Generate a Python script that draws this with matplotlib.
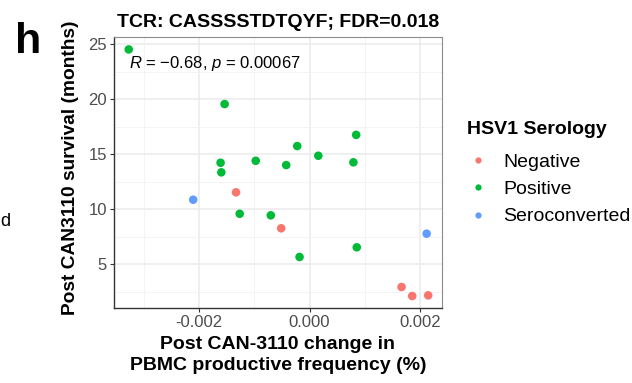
import matplotlib
matplotlib.use("Agg")
import matplotlib.pyplot as plt
from matplotlib.ticker import MultipleLocator
from matplotlib.lines import Line2D

plt.rcParams["font.family"] = ["Liberation Sans", "DejaVu Sans"]
plt.rcParams["mathtext.fontset"] = "custom"
plt.rcParams["mathtext.rm"] = "Liberation Sans"
plt.rcParams["mathtext.it"] = "Liberation Sans:italic"

# Datos
negativo_x = [-0.001333, -0.000515, 0.001667, 0.00186, 0.00215]
negativo_y = [11.52, 8.25, 2.91, 2.09, 2.15]

positivo_x = [-0.003278, -0.00154, -0.001613, -0.0016, -0.000976, -0.000424,
              -0.000224, 0.000158, 0.000844, 0.000794, -0.001267, -0.000703,
              -0.000182, 0.000855]
positivo_y = [24.52, 19.55, 14.21, 13.34, 14.39, 14.0,
              15.73, 14.85, 16.75, 14.25, 9.57, 9.43,
              5.64, 6.52]

seroconv_x = [-0.00211, 0.002122]
seroconv_y = [10.85, 7.76]

grupos = ["Negative", "Positive", "Seroconverted"]
colores = ["#F8766D", "#00BA38", "#619CFF"]

fig = plt.figure(figsize=(6.32, 3.83), dpi=100)
ax = fig.add_axes([114 / 632, 1 - 308 / 383, 328 / 632, 271 / 383])

for xs, ys, c in zip([negativo_x, positivo_x, seroconv_x],
                     [negativo_y, positivo_y, seroconv_y], colores):
    ax.scatter(xs, ys, s=38, color=c, edgecolors="none", zorder=3)

ax.set_xlim(-0.003545, 0.0024)
ax.set_ylim(1.0, 25.65)
ax.xaxis.set_major_locator(MultipleLocator(0.002))
ax.xaxis.set_minor_locator(MultipleLocator(0.001))
ax.yaxis.set_major_locator(MultipleLocator(5))
ax.yaxis.set_minor_locator(MultipleLocator(2.5))
ax.xaxis.set_major_formatter(plt.FuncFormatter(lambda v, p: f"{v:.3f}"))
ax.yaxis.set_major_formatter(plt.FuncFormatter(lambda v, p: f"{v:.0f}"))

ax.grid(which="major", color="#EBEBEB", linewidth=1.1, zorder=0)
ax.grid(which="minor", color="#F2F2F2", linewidth=0.6, zorder=0)
ax.set_axisbelow(True)
ax.tick_params(which="major", length=3, width=0.8, color="#333333",
               labelsize=12, labelcolor="#4D4D4D", pad=2)
ax.tick_params(which="minor", length=0)

for lado in ["left", "bottom"]:
    ax.spines[lado].set_color("#333333")
    ax.spines[lado].set_linewidth(1.0)
for lado in ["top", "right"]:
    ax.spines[lado].set_color("#8C8C8C")
    ax.spines[lado].set_linewidth(0.8)

ax.set_title("TCR: CASSSSTDTQYF; FDR=0.018", fontsize=14, fontweight="bold", pad=7)
ax.set_ylabel("Post CAN3110 survival (months)", fontsize=13.8, fontweight="bold")
ax.yaxis.set_label_coords(-0.107, 0.518)
ax.set_xlabel("Post CAN-3110 change in\nPBMC productive frequency (%)",
              fontsize=14, fontweight="bold", linespacing=1.25)
ax.xaxis.set_label_coords(0.5, -0.105)

ax.text(0.0457, 0.887, r"$R$ = $-$0.68, $p$ = 0.00067", transform=ax.transAxes,
        fontsize=12, va="baseline", ha="left")

# Leyenda
handles = [Line2D([], [], marker="o", linestyle="", markersize=4.5,
                  markerfacecolor=c, markeredgecolor="none") for c in colores]
leg = fig.legend(handles, grupos, title="HSV1 Serology", loc="upper left",
                 bbox_to_anchor=(467 / 632, 1 - 121.5 / 383), frameon=False,
                 fontsize=14, title_fontproperties={"weight": "bold", "size": 14},
                 handlelength=1.1, handletextpad=0.75, labelspacing=0.5,
                 borderpad=0, borderaxespad=0)
leg._legend_box.align = "left"
leg._legend_box.sep = 10.5

fig.text(15 / 632, 1 - 53 / 383, "h", fontsize=31, fontweight="bold", va="baseline")
fig.text(0.5 / 632, 1 - 226 / 383, "d", fontsize=13, va="baseline", ha="left")

fig.savefig("out.png", dpi=100)
